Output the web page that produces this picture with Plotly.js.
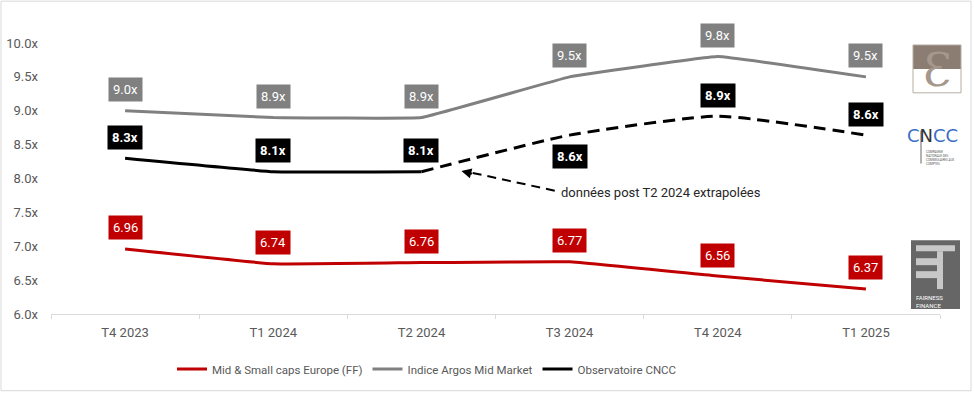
<!DOCTYPE html>
<html>
<head>
<meta charset="utf-8">
<script src="https://cdn.plot.ly/plotly-3.0.1.min.js"></script>
<style>html,body{margin:0;padding:0;background:#fff;}#chart{width:974px;height:394px;}</style>
</head>
<body>
<div id="chart"></div>
<script>
const categories = ['T4 2023', 'T1 2024', 'T2 2024', 'T3 2024', 'T4 2024', 'T1 2025'];
const midSmallCaps = [6.96, 6.74, 6.76, 6.77, 6.56, 6.37];
const argosIndex = [9.0, 8.9, 8.9, 9.5, 9.8, 9.5];
const cnccValues = [8.3, 8.1, 8.1, 8.64, 8.92, 8.64];
const cnccLabelSide = [1, 1, 1, -1, 1, 1];
const yTicks = [6.0, 6.5, 7.0, 7.5, 8.0, 8.5, 9.0, 9.5, 10.0];
const seriesNames = ['Mid & Small caps Europe (FF)', 'Indice Argos Mid Market', 'Observatoire CNCC'];
const noteText = 'données post T2 2024 extrapolées';

const RED = '#C00000', GRAY = '#808080', BLACK = '#000000';
const FONT = 'Roboto, "Open Sans", "Liberation Sans", sans-serif';

const solidEnd = 3; // observed CNCC points up to T2 2024
const traces = [
  {x: categories, y: midSmallCaps, name: seriesNames[0], mode: 'lines',
   line: {color: RED, width: 3, shape: 'spline', smoothing: 0.2}},
  {x: categories, y: argosIndex, name: seriesNames[1], mode: 'lines',
   line: {color: GRAY, width: 3, shape: 'spline', smoothing: 0.2}},
  {x: categories.slice(0, solidEnd), y: cnccValues.slice(0, solidEnd), name: seriesNames[2], mode: 'lines',
   line: {color: BLACK, width: 3, shape: 'spline', smoothing: 0.2}},
  {x: categories.slice(solidEnd - 1), y: cnccValues.slice(solidEnd - 1), name: seriesNames[2], mode: 'lines',
   showlegend: false, line: {color: BLACK, width: 3, dash: '12px,7px', shape: 'spline', smoothing: 0.5}}
];

const annotations = [];
function addLabels(vals, fmt, bg, bold, sides) {
  vals.forEach((v, i) => {
    const s = sides ? sides[i] : 1;
    annotations.push({
      x: categories[i], y: v, xref: 'x', yref: 'y', showarrow: false,
      text: bold ? '<b>' + fmt(v) + '</b>' : fmt(v),
      yshift: 21 * s, bgcolor: bg, borderpad: 4,
      font: {family: FONT, size: 13, color: '#ffffff'}
    });
  });
}
addLabels(midSmallCaps, v => v.toFixed(2), RED, false);
addLabels(argosIndex, v => v.toFixed(1) + 'x', GRAY, false);
addLabels(cnccValues, v => v.toFixed(1) + 'x', BLACK, true, cnccLabelSide);

// note text
annotations.push({x: 2.93, y: 7.79, xref: 'x', yref: 'y', xanchor: 'left', yanchor: 'middle',
  text: noteText, showarrow: false, font: {family: FONT, size: 13, color: '#262626'}});
// arrow head
annotations.push({x: 2.27, y: 8.11, xref: 'x', yref: 'y', ax: 12, ay: 3, text: '',
  showarrow: true, arrowhead: 2, arrowsize: 1, arrowwidth: 2, arrowcolor: BLACK});

const W = 974, H = 394, ML = 51, MR = 34, MT = 43, MB = 79;
const px = x => (x - ML) / (W - ML - MR);
const py = y => (H - MB - y) / (H - MT - MB);

// logos (approximate)
annotations.push({x: px(937), y: py(70), xref: 'paper', yref: 'paper', xanchor: 'center', yanchor: 'middle',
  showarrow: false, text: 'Ɛ', font: {family: '"DejaVu Serif", serif', size: 46, color: '#a5978c'}});
annotations.push({x: px(932), y: py(136), xref: 'paper', yref: 'paper', xanchor: 'center', yanchor: 'middle',
  showarrow: false,
  text: '<span style="color:#3a6fc4">C</span><span style="color:#333">N</span><span style="color:#3a6fc4">CC</span>',
  font: {family: '"DejaVu Sans", sans-serif', size: 18, color: '#3a6fc4'}});
annotations.push({x: px(924), y: py(158), xref: 'paper', yref: 'paper', xanchor: 'left', yanchor: 'middle',
  showarrow: false, text: 'COMPAGNIE<br>NATIONALE DES<br>COMMISSAIRES AUX<br>COMPTES', align: 'left',
  font: {family: FONT, size: 3, color: '#555'}});
annotations.push({x: px(914), y: py(302), xref: 'paper', yref: 'paper', xanchor: 'left', yanchor: 'middle',
  showarrow: false, text: 'FAIRNESS<br>FINANCE', align: 'left',
  font: {family: FONT, size: 6, color: '#ffffff'}});

const shapes = [
  // outer border
  {type: 'rect', xref: 'paper', yref: 'paper', x0: px(1), x1: px(971), y0: py(1), y1: py(392),
   line: {color: '#d9d9d9', width: 1}, fillcolor: 'rgba(0,0,0,0)', layer: 'below'},
  // dashed arrow shaft
  {type: 'line', xref: 'x', yref: 'y', x0: 2.9, y0: 7.82, x1: 2.33, y1: 8.09,
   line: {color: BLACK, width: 2, dash: '9px,6px'}},
  // logo 1
  {type: 'rect', xref: 'paper', yref: 'paper', x0: px(913), x1: px(961), y0: py(45), y1: py(69),
   line: {width: 0}, fillcolor: '#8c7d72', layer: 'below'},
  {type: 'rect', xref: 'paper', yref: 'paper', x0: px(913), x1: px(961), y0: py(45), y1: py(93),
   line: {color: '#b8aca3', width: 1}, fillcolor: 'rgba(0,0,0,0)', layer: 'below'},
  // logo 2 line
  {type: 'line', xref: 'paper', yref: 'paper', x0: px(921), x1: px(921), y0: py(131), y1: py(164),
   line: {color: '#666', width: 1}},
  // logo 3
  {type: 'rect', xref: 'paper', yref: 'paper', x0: px(911), x1: px(960), y0: py(241), y1: py(310),
   line: {width: 0}, fillcolor: '#666666', layer: 'below'},
  {type: 'rect', xref: 'paper', yref: 'paper', x0: px(916), x1: px(955), y0: py(246), y1: py(252),
   line: {width: 0}, fillcolor: '#c8c8c8'},
  {type: 'rect', xref: 'paper', yref: 'paper', x0: px(916), x1: px(937), y0: py(259), y1: py(266),
   line: {width: 0}, fillcolor: '#c8c8c8'},
  {type: 'rect', xref: 'paper', yref: 'paper', x0: px(916), x1: px(937), y0: py(272), y1: py(279),
   line: {width: 0}, fillcolor: '#c8c8c8'},
  {type: 'rect', xref: 'paper', yref: 'paper', x0: px(937), x1: px(943), y0: py(252), y1: py(290),
   line: {width: 0}, fillcolor: '#c8c8c8'}
];

const layout = {
  width: W, height: H,
  margin: {l: ML, r: MR, t: MT, b: MB},
  paper_bgcolor: '#ffffff', plot_bgcolor: 'rgba(0,0,0,0)',
  font: {family: FONT, size: 13, color: '#595959'},
  showlegend: true,
  legend: {orientation: 'h', x: px(172), xanchor: 'left', y: py(369), yanchor: 'middle',
           font: {family: FONT, size: 11.5, color: '#595959'}, itemwidth: 30, tracegroupgap: 0},
  xaxis: {type: 'category', range: [-0.5, 5.5], showgrid: false, zeroline: false,
          showline: true, linecolor: '#d9d9d9', linewidth: 1,
          ticks: 'outside', tickson: 'boundaries', ticklen: 4, tickcolor: '#d9d9d9',
          ticklabelstandoff: 6,
          tickfont: {family: FONT, size: 13, color: '#595959'}, fixedrange: true},
  yaxis: {range: [6, 10], tickvals: yTicks, ticktext: yTicks.map(v => v.toFixed(1) + 'x'),
          showgrid: false, zeroline: false, showline: false, ticks: '',
          ticklabelstandoff: 12,
          tickfont: {family: FONT, size: 13, color: '#595959'}, fixedrange: true},
  annotations: annotations,
  shapes: shapes
};

Plotly.newPlot('chart', traces, layout, {staticPlot: true, displayModeBar: false});
</script>
</body>
</html>
